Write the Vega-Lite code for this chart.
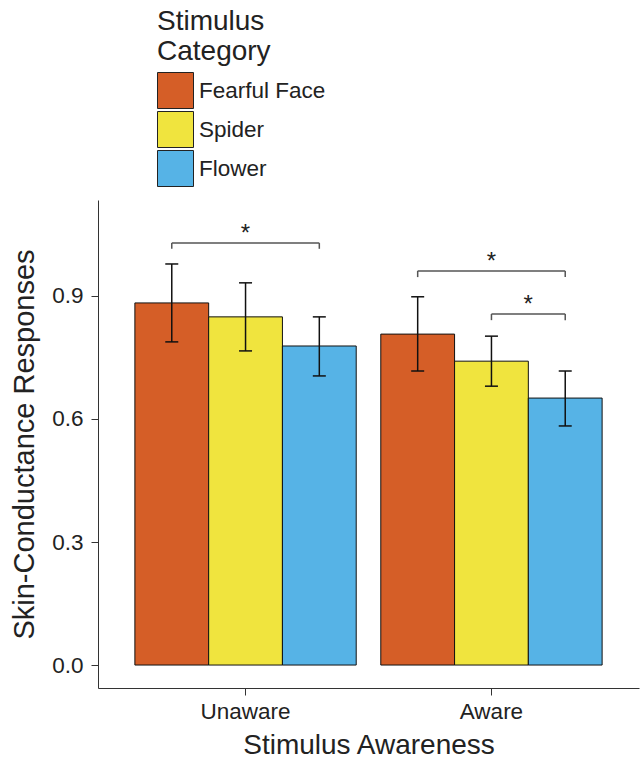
{
  "$schema": "https://vega.github.io/schema/vega-lite/v6.json",
  "width": 541,
  "height": 488,
  "autosize": {"type": "none"},
  "padding": {"left": 98, "top": 200, "right": 1, "bottom": 73},
  "config": {
    "font": "Liberation Sans",
    "view": {"stroke": null},
    "axis": {
      "domainColor": "#333333",
      "domainWidth": 1,
      "tickColor": "#333333",
      "tickWidth": 1,
      "tickSize": 7,
      "labelFontSize": 22.5,
      "labelColor": "#222222",
      "titleFontSize": 29,
      "titleFontWeight": "normal",
      "titleColor": "#222222",
      "grid": false
    }
  },
  "datasets": {
    "bars": [
      {"group": "Unaware", "category": "Fearful Face", "value": 0.883, "lower": 0.788, "upper": 0.978},
      {"group": "Unaware", "category": "Spider", "value": 0.849, "lower": 0.766, "upper": 0.932},
      {"group": "Unaware", "category": "Flower", "value": 0.778, "lower": 0.705, "upper": 0.849},
      {"group": "Aware", "category": "Fearful Face", "value": 0.807, "lower": 0.717, "upper": 0.898},
      {"group": "Aware", "category": "Spider", "value": 0.741, "lower": 0.680, "upper": 0.802},
      {"group": "Aware", "category": "Flower", "value": 0.651, "lower": 0.583, "upper": 0.717}
    ],
    "brackets": [
      {"bracket": "u1", "group": "Unaware", "category": "Fearful Face", "y": 1.029, "ylow": 1.015},
      {"bracket": "u1", "group": "Unaware", "category": "Flower", "y": 1.029, "ylow": 1.015},
      {"bracket": "a1", "group": "Aware", "category": "Fearful Face", "y": 0.961, "ylow": 0.946},
      {"bracket": "a1", "group": "Aware", "category": "Flower", "y": 0.961, "ylow": 0.946},
      {"bracket": "a2", "group": "Aware", "category": "Spider", "y": 0.856, "ylow": 0.841},
      {"bracket": "a2", "group": "Aware", "category": "Flower", "y": 0.856, "ylow": 0.841}
    ],
    "stars": [
      {"group": "Unaware", "category": "Spider", "y": 1.029, "label": "*"},
      {"group": "Aware", "category": "Spider", "y": 0.961, "label": "*"}
    ],
    "stars2": [
      {"group": "Aware", "category": "Flower", "y": 0.856, "label": "*"}
    ]
  },
  "encoding": {
    "x": {
      "field": "group",
      "type": "nominal",
      "sort": ["Unaware", "Aware"],
      "scale": {"domain": ["Unaware", "Aware"], "paddingInner": 0.1, "paddingOuter": 0.15},
      "title": "Stimulus Awareness",
      "axis": {"labelAngle": 0, "labelPadding": 5, "titlePadding": 9, "titleFontSize": 28}
    }
  },
  "layer": [
    {
      "data": {"name": "bars"},
      "mark": {"type": "bar", "stroke": "#111111", "strokeWidth": 1},
      "encoding": {
        "xOffset": {"field": "category", "type": "nominal", "sort": ["Fearful Face", "Spider", "Flower"], "scale": {"domain": ["Fearful Face", "Spider", "Flower"], "paddingInner": 0, "paddingOuter": 0}},
        "y": {
          "field": "value",
          "type": "quantitative",
          "scale": {"domain": [-0.056, 1.134], "nice": false, "zero": false},
          "title": "Skin-Conductance Responses",
          "axis": {"values": [0, 0.3, 0.6, 0.9], "format": ".1f", "labelPadding": 8, "titlePadding": 12}
        },
        "y2": {"datum": 0},
        "color": {
          "field": "category",
          "type": "nominal",
          "sort": ["Fearful Face", "Spider", "Flower"],
          "scale": {"domain": ["Fearful Face", "Spider", "Flower"], "range": ["#D55E27", "#F0E43E", "#56B3E6"]},
          "legend": {
            "orient": "none",
            "legendX": 59,
            "legendY": -192,
            "title": ["Stimulus", "Category"],
            "titleFontSize": 28,
            "titleLineHeight": 30,
            "titleFontWeight": "normal",
            "titleColor": "#222222",
            "titlePadding": 6,
            "labelFontSize": 22.5,
            "labelColor": "#222222",
            "labelOffset": 5,
            "symbolType": "square",
            "symbolSize": 1296,
            "symbolStrokeColor": "#222222",
            "symbolStrokeWidth": 1,
            "symbolOpacity": 1,
            "rowPadding": -8
          }
        }
      }
    },
    {
      "data": {"name": "bars"},
      "mark": {"type": "rule", "color": "#111111", "strokeWidth": 1.5},
      "encoding": {
        "xOffset": {"field": "category", "type": "nominal", "sort": ["Fearful Face", "Spider", "Flower"]},
        "y": {"field": "lower", "type": "quantitative"},
        "y2": {"field": "upper"}
      }
    },
    {
      "data": {"name": "bars"},
      "mark": {"type": "tick", "orient": "horizontal", "color": "#111111", "size": 13, "thickness": 1.5, "opacity": 1},
      "encoding": {
        "xOffset": {"field": "category", "type": "nominal", "sort": ["Fearful Face", "Spider", "Flower"]},
        "y": {"field": "upper", "type": "quantitative"}
      }
    },
    {
      "data": {"name": "bars"},
      "mark": {"type": "tick", "orient": "horizontal", "color": "#111111", "size": 13, "thickness": 1.5, "opacity": 1},
      "encoding": {
        "xOffset": {"field": "category", "type": "nominal", "sort": ["Fearful Face", "Spider", "Flower"]},
        "y": {"field": "lower", "type": "quantitative"}
      }
    },
    {
      "data": {"name": "brackets"},
      "mark": {"type": "line", "color": "#555555", "strokeWidth": 1.5},
      "encoding": {
        "xOffset": {"field": "category", "type": "nominal", "sort": ["Fearful Face", "Spider", "Flower"]},
        "y": {"field": "y", "type": "quantitative"},
        "detail": {"field": "bracket"}
      }
    },
    {
      "data": {"name": "brackets"},
      "mark": {"type": "rule", "color": "#555555", "strokeWidth": 1.5},
      "encoding": {
        "xOffset": {"field": "category", "type": "nominal", "sort": ["Fearful Face", "Spider", "Flower"]},
        "y": {"field": "y", "type": "quantitative"},
        "y2": {"field": "ylow"}
      }
    },
    {
      "data": {"name": "stars"},
      "mark": {"type": "text", "fontSize": 24, "color": "#222222", "baseline": "alphabetic", "dy": -2},
      "encoding": {
        "xOffset": {"field": "category", "type": "nominal", "sort": ["Fearful Face", "Spider", "Flower"]},
        "y": {"field": "y", "type": "quantitative"},
        "text": {"field": "label"}
      }
    },
    {
      "data": {"name": "stars2"},
      "mark": {"type": "text", "fontSize": 24, "color": "#222222", "baseline": "alphabetic", "dy": -2, "dx": -37},
      "encoding": {
        "xOffset": {"field": "category", "type": "nominal", "sort": ["Fearful Face", "Spider", "Flower"]},
        "y": {"field": "y", "type": "quantitative"},
        "text": {"field": "label"}
      }
    }
  ]
}
